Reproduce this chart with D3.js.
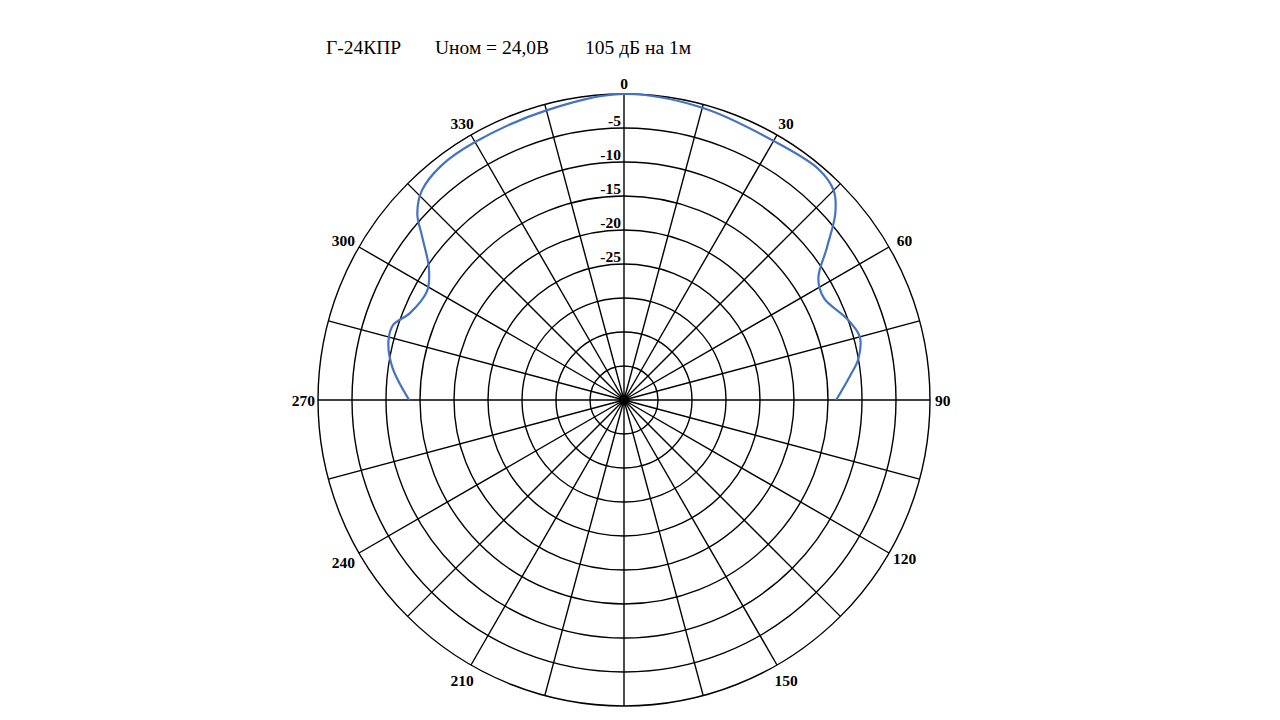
<!DOCTYPE html>
<html>
<head>
<meta charset="utf-8">
<script src="https://cdn.jsdelivr.net/npm/d3@7"></script>
<style>
  html, body { margin: 0; padding: 0; background: #fff; }
  svg { display: block; }
</style>
</head>
<body>
<svg id="chart" width="1280" height="720"></svg>
<script>
// ---- data ----
const titleParts = ["Г-24КПР", "Uном = 24,0В", "105 дБ на 1м"];
const ringLevels = [-40, -35, -30, -25, -20, -15, -10, -5, 0];
const ringLabels = ["-5", "-10", "-15", "-20", "-25"];
const spokeAngles = d3.range(0, 360, 15);
const angleLabels = ["0", "30", "60", "90", "120", "150", "210", "240", "270", "300", "330"];
// directivity pattern: angle (deg, signed) and level (dB)
const patternAngles = [-90, -82, -76, -72, -68, -61, -56, -51, -48, -44, -38, -30, -15, 0, 15, 30, 40, 45, 48.5, 53, 58, 63, 70, 75, 80, 84, 90];
const patternLevels = [-13.4, -10.6, -9.3, -9.3, -11.0, -11.9, -10.4, -6.8, -4.1, -2.2, -1.3, -1.2, -0.9, 0, -0.5, -1.0, -0.6, -1.4, -3.5, -7.6, -11.3, -12.0, -10.1, -9.1, -10.0, -11.6, -13.8];

// ---- layout ----
const cx = 624, cy = 400;
const svg = d3.select("#chart");
const r = d3.scaleLinear().domain([-45, 0]).range([0, 306]);
const rad = d => d * Math.PI / 180;

const g = svg.append("g").attr("transform", `translate(${cx},${cy})`);

// rings
g.selectAll("circle.ring").data(ringLevels).join("circle")
  .attr("class", "ring")
  .attr("r", d => r(d))
  .attr("fill", "none").attr("stroke", "#000").attr("stroke-width", 1.4);

// spokes
g.selectAll("line.spoke").data(spokeAngles).join("line")
  .attr("class", "spoke")
  .attr("x1", 0).attr("y1", 0)
  .attr("x2", d => r(0) * Math.sin(rad(d)))
  .attr("y2", d => -r(0) * Math.cos(rad(d)))
  .attr("stroke", "#000").attr("stroke-width", 1.4);

// center blob
g.append("circle").attr("r", 5.5).attr("fill", "#000");

const labelFont = "'Liberation Serif', 'Times New Roman', serif";

// ring labels
g.selectAll("text.ringlab").data(ringLabels).join("text")
  .attr("class", "ringlab")
  .attr("x", -3)
  .attr("y", d => -r(+d) - 2)
  .attr("text-anchor", "end")
  .attr("font-family", labelFont).attr("font-weight", "bold").attr("font-size", 15.5)
  .text(d => d);

// angle labels
g.selectAll("text.anglab").data(angleLabels).join("text")
  .attr("class", "anglab")
  .each(function(d) {
    const a = +d;
    const el = d3.select(this);
    let R = 324, anchor = "middle", dy = 0;
    if (a === 30 || a === 330) dy = 4;
    if (a === 60 || a === 300) dy = 2;
    if (a === 120) dy = -4;
    if (a === 0) R = 317;
    if (a === 90) { R = 311; anchor = "start"; }
    if (a === 270) { R = 309; anchor = "end"; }
    el.attr("x", R * Math.sin(rad(a)))
      .attr("y", -R * Math.cos(rad(a)) + dy)
      .attr("text-anchor", anchor)
      .attr("dominant-baseline", "central");
  })
  .attr("font-family", labelFont).attr("font-weight", "bold").attr("font-size", 15.5)
  .text(d => d);

// pattern curve
const pts = patternAngles.map((a, i) => [rad(a), r(patternLevels[i])]);
const line = d3.lineRadial().angle(d => d[0]).radius(d => d[1]).curve(d3.curveCatmullRom.alpha(0.5));
g.append("path").attr("d", line(pts))
  .attr("fill", "none").attr("stroke", "#4472C4").attr("stroke-width", 2.2);

// title
const titleX = [326, 435, 585];
svg.selectAll("text.title").data(titleParts).join("text")
  .attr("class", "title")
  .attr("x", (d, i) => titleX[i])
  .attr("y", 54)
  .attr("font-family", "'Liberation Serif', 'Times New Roman', serif")
  .attr("font-size", 19.5)
  .text(d => d);
</script>
</body>
</html>
